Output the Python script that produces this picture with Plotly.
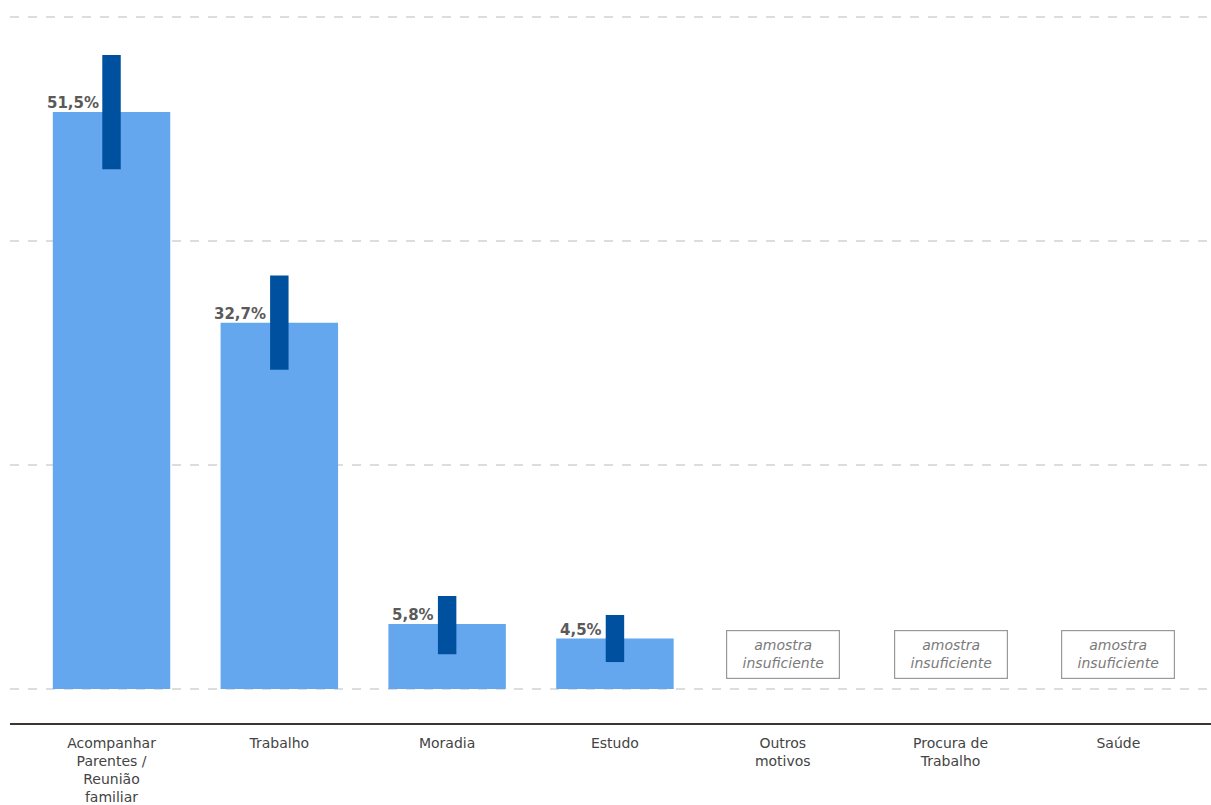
import plotly.graph_objects as go

categories = ["Acompanhar<br>Parentes /<br>Reunião<br>familiar", "Trabalho", "Moradia", "Estudo",
              "Outros<br>motivos", "Procura de<br>Trabalho", "Saúde"]
values = [51.5, 32.7, 5.8, 4.5, None, None, None]
labels = ["51,5%", "32,7%", "5,8%", "4,5%", None, None, None]
ci_low = [46.4, 28.5, 3.1, 2.4, None, None, None]
ci_high = [56.6, 36.9, 8.3, 6.6, None, None, None]
insufficient_text = "amostra<br>insuficiente"

FONT = "DejaVu Sans"
xs = list(range(len(categories)))

fig = go.Figure()
fig.add_trace(go.Bar(
    x=xs, y=[v if v is not None else 0 for v in values], width=0.70,
    marker=dict(color="#64a7ee", line=dict(width=0)), hoverinfo="skip",
))
ex = [x for x, v in zip(xs, ci_low) if v is not None]
eb = [v for v in ci_low if v is not None]
eh = [h - l for h, l in zip(ci_high, ci_low) if h is not None]
fig.add_trace(go.Bar(
    x=ex, y=eh, base=eb, width=0.11,
    marker=dict(color="#0050a0", line=dict(width=0)), hoverinfo="skip",
))

annotations = []
for x, v, lab in zip(xs, values, labels):
    if v is not None:
        annotations.append(dict(
            x=x - 0.065, y=v, xref="x", yref="y", text="<b>" + lab + "</b>", showarrow=False,
            xanchor="right", yanchor="bottom", yshift=-2,
            font=dict(family=FONT, size=15, color="#5a5a5a"),
        ))
    else:
        annotations.append(dict(
            x=x, y=0, xref="x", yref="y", text="<i>" + insufficient_text + "</i>",
            showarrow=False, xanchor="center", yanchor="bottom", yshift=10,
            font=dict(family=FONT, size=14, color="#7a7a7a"),
            bordercolor="#999999", borderwidth=1.2, borderpad=6, bgcolor="white",
            width=100,
        ))

fig.update_layout(
    width=1211, height=805,
    margin=dict(l=10, r=0, t=0, b=82),
    paper_bgcolor="white", plot_bgcolor="white",
    barmode="overlay", showlegend=False,
    font=dict(family=FONT, size=14, color="#444444"),
    annotations=annotations,
    xaxis=dict(
        range=[-0.605, 6.552], tickmode="array", tickvals=xs, ticktext=categories,
        showgrid=False, zeroline=False, showline=True, linecolor="#3b3530", linewidth=2,
        ticks="", ticklabelstandoff=6, tickfont=dict(family=FONT, size=14, color="#444444"),
    ),
    yaxis=dict(
        range=[-3.04, 61.5], tickvals=[0, 20, 40, 60], showticklabels=False,
        showgrid=True, gridcolor="#dddddd", gridwidth=2, griddash="dash",
        zeroline=False, showline=False,
    ),
)

fig.write_html("out.html", config={"displayModeBar": False},
               post_script="document.body.style.margin='0';document.body.style.overflow='hidden';")
